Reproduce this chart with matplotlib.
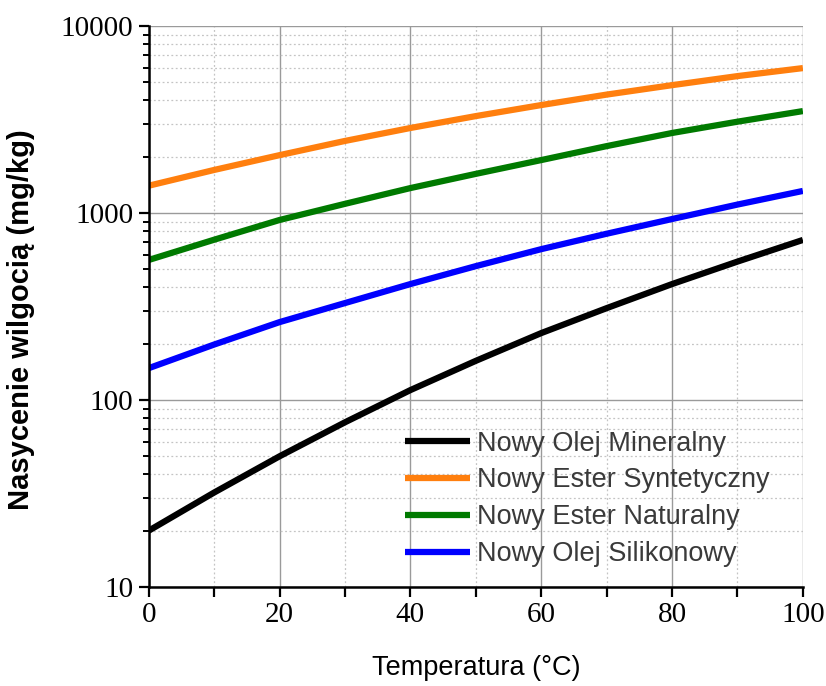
import matplotlib.pyplot as plt
from matplotlib.ticker import LogLocator, FixedLocator, NullFormatter

# Data (moisture saturation vs temperature)
temperature = [0, 10, 20, 30, 40, 50, 60, 70, 80, 90, 100]
mineral = [20, 32, 50, 76, 113, 162, 228, 310, 417, 550, 718]
ester_synt = [1400, 1700, 2040, 2430, 2850, 3300, 3780, 4300, 4830, 5400, 5960]
ester_nat = [561, 720, 918, 1120, 1360, 1620, 1920, 2280, 2680, 3080, 3510]
silicone = [148, 198, 261, 330, 417, 520, 641, 775, 929, 1110, 1313]

labels = ["Nowy Olej Mineralny", "Nowy Ester Syntetyczny",
          "Nowy Ester Naturalny", "Nowy Olej Silikonowy"]
colors = ["#000000", "#ff7f0e", "#007a00", "#0000ff"]

fig = plt.figure(figsize=(8.26, 6.86), dpi=100)
ax = fig.add_axes([0.180, 0.1443, 0.792, 0.8177])

for y, lab, c in zip([mineral, ester_synt, ester_nat, silicone], labels, colors):
    ax.plot(temperature, y, color=c, lw=4.5, label=lab, solid_capstyle="butt")

ax.set_yscale("log")
ax.set_xlim(0, 100)
ax.set_ylim(10, 10000)

ax.xaxis.set_major_locator(FixedLocator([0, 20, 40, 60, 80, 100]))
ax.xaxis.set_minor_locator(FixedLocator([10, 30, 50, 70, 90]))
ax.yaxis.set_major_locator(FixedLocator([10, 100, 1000, 10000]))
ax.yaxis.set_minor_locator(LogLocator(base=10, subs=range(2, 10)))
ax.yaxis.set_minor_formatter(NullFormatter())
ax.set_yticklabels(["10", "100", "1000", "10000"])

# grid
ax.grid(which="major", color="#9a9a9a", lw=1, ls="-")
ax.grid(which="minor", color="#c4c4c4", lw=0.9, ls=(0, (1.5, 2)))
ax.set_axisbelow(True)

for side in ["top", "right"]:
    ax.spines[side].set_visible(False)
for side in ["left", "bottom"]:
    ax.spines[side].set_linewidth(1.8)
    ax.spines[side].set_color("black")

ax.tick_params(which="major", direction="out", length=7, width=1.6,
               labelsize=21, pad=4)
ax.tick_params(axis="x", which="minor", direction="out", length=7, width=1.6)
ax.tick_params(axis="y", which="minor", direction="out", length=4, width=1.4)
for t in ax.get_xticklabels() + ax.get_yticklabels():
    t.set_fontfamily("Liberation Serif")

ax.set_xlabel("Temperatura (\u00b0C)", fontsize=19.5, family="Liberation Sans",
              labelpad=19)
ax.set_ylabel("Nasycenie wilgocią (mg/kg)", fontsize=21, fontweight="bold",
              family="Liberation Sans")
ax.yaxis.set_label_coords(-0.174, 0.477)

leg = ax.legend(loc="upper left", bbox_to_anchor=(0.392, 0.279), frameon=False,
                handlelength=2.4, handletextpad=0.25, borderpad=0,
                borderaxespad=0, labelspacing=0.4,
                prop={"family": "Liberation Sans", "size": 19.5})
for t in leg.get_texts():
    t.set_color("#3a3a3a")

fig.savefig("out.png", dpi=100)
